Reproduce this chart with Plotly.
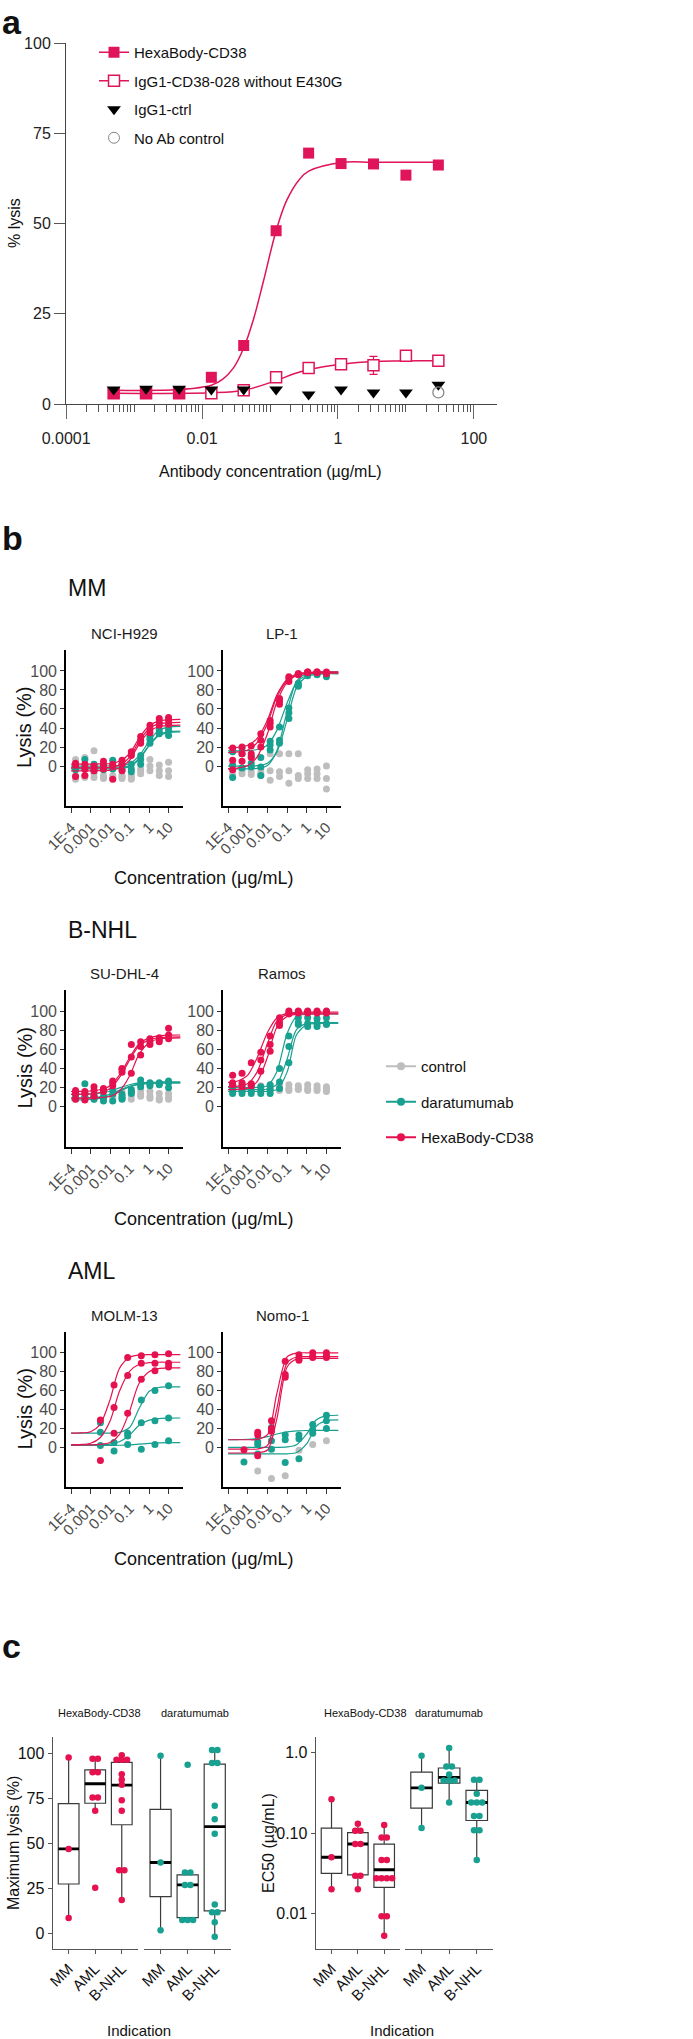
import plotly.graph_objects as go
from collections import Counter

W, H = 693, 2039
NARROW = "Liberation Sans, Arial, sans-serif"
REG = "Liberation Sans, Arial, sans-serif"
RED_A = "#E0145A"
RED = "#E5124F"
TEAL = "#18A090"
GREY = "#BEBEBE"

# ---------------- panel a ----------------
a_conc = [0.0005, 0.0015, 0.0046, 0.0137, 0.041, 0.123, 0.37, 1.11, 3.33, 10, 30]
a_hexa = [3, 3, 3, 7.4, 16.2, 48, 69.5, 66.6, 66.5, 63.4, 66.2]
a_igg = [3, 3, 3, 3, 3.8, 7.4, 10, 11, 10.7, 13.4, 12]
a_igg_err = [0, 0, 0, 0, 0, 0, 0, 0, 2.5, 0, 0]
a_ctrl = [4, 4.2, 4.2, 4, 4, 4, 2.6, 4, 3.2, 3.2, 5.3]
a_noab_conc = [30]
a_noab = [3.2]
a_hexa_fit_x = [0.0005, 0.0046, 0.0137, 0.02, 0.029, 0.041, 0.057, 0.08, 0.123, 0.176, 0.276, 0.37, 1.11, 3.33, 30]
a_hexa_fit_y = [3.8, 4.0, 5.2, 6.8, 10, 15.5, 23.4, 34, 48, 56.4, 62.4, 64.5, 66.9, 67, 67]
a_igg_fit_x = [0.0005, 0.0137, 0.041, 0.123, 0.22, 0.37, 1.11, 3.33, 30]
a_igg_fit_y = [3, 3.1, 3.8, 6.5, 8.3, 9.5, 11, 11.8, 12]

# ---------------- panel b ----------------
conc_3fold = [0.00017, 0.00051, 0.0015, 0.0046, 0.0137, 0.041, 0.123, 0.37, 1.11, 3.33, 10]
conc_molm = [0.0032, 0.016, 0.08, 0.4, 2, 10]
conc_nomo = [0.00064, 0.0032, 0.016, 0.08, 0.4, 2, 10]
fit_conc = [1e-4, 3e-4, 1e-3, 3e-3, 0.01, 0.03, 0.1, 0.3, 1, 3, 10, 40]

nci_hexa = [[3, -11, 1], [-3, -10, 2], [0, -3, -5], [5, -3, 1], [0, -14, 2], [6, -5, 2],
            [15, 11, 13], [31, 27, 24], [43, 39, 35], [50, 46, 43], [51, 48, 44]]
nci_dara = [[0, -4, 2], [7, -3, -1], [2, -2, -5], [-1, 1, -4], [6, -2, -3], [2, -1, -4],
            [-6, 2, -3], [11, 7, 2], [31, 24, 28], [38, 34, 35], [40, 32, 37]]
nci_ctrl = [[7, -14, -10], [9, -10, -12], [16, -12, -8], [-10, -12, -13], [-10, -12, -13], [-11, -13, -10],
            [-14, -10, -12], [-5, -3, -8], [7, 0, -5], [1, -5, -10], [4, -5, -11]]
nci_hexa_fit = [[2, 2, 2, 2.2, 2.7, 5, 12.9, 28.9, 42.3, 47.3, 48.6, 49],
                [-2, -2, -2, -1.8, -1.3, 1, 9.1, 25.6, 39.2, 44.3, 45.6, 46],
                [-5, -5, -5, -4.8, -4.3, -2, 6.1, 22.6, 36.2, 41.3, 42.6, 43]]
nci_dara_fit = [[0, 0, 0, 0, 0.1, 0.5, 2.6, 10.3, 26, 37.4, 41, 41.8],
                [-2, -2, -2, -2, -1.9, -1.5, 0.4, 7.6, 22.1, 32.7, 36.1, 36.8],
                [-3, -3, -3, -3, -2.9, -2.5, -0.6, 6.6, 21.1, 31.7, 35.1, 35.8]]

lp1_hexa = [[19, 6, -4], [20, 13, 5], [21, 13, 9], [34, 27, 20], [48, 45, 41], [71, 68, 65],
            [94, 89, 92], [97, 96, 97], [99, 99, 98], [99, 99, 98], [99, 98, 97]]
lp1_dara = [[15, -12, 1], [19, 13, -2], [10, 3, -1], [9, -1, -10], [26, 22, 17], [41, 27, 24],
            [61, 56, 50], [87, 85, 84], [97, 96, 95], [97, 97, 96], [97, 94, 96]]
lp1_ctrl = [[0, -4, -9], [-2, -5, -8], [-1, -6, -9], [-3, -7, -10], [13, -15, -5], [13, -11, -6],
            [13, -5, -18], [13, -10, -13], [-4, -8, -13], [-3, -8, -13], [0, -13, -24]]
lp1_hexa_fit = [[19.2, 19.7, 21.8, 29.1, 48.2, 74.7, 91.1, 96.8, 98.4, 98.8, 99, 99],
                [14.2, 14.8, 16.9, 24.6, 44.7, 72.5, 89.7, 95.7, 97.4, 97.8, 98, 98],
                [-2.8, -2.1, 0.5, 9.7, 33.9, 67.3, 88, 95.3, 97.3, 97.8, 98, 98]]
lp1_dara_fit = [[16, 16.1, 16.3, 17.4, 22.1, 37.5, 66.3, 87.8, 95.5, 97.4, 98, 98],
                [-3, -3, -2.9, -2.4, 0.6, 16, 57.3, 88.9, 97.3, 98.7, 99, 99],
                [0, 0, 0.1, 0.5, 3, 14.6, 48.5, 82.4, 94, 96.4, 97, 97]]

sud_hexa = [[17, 14, 8], [16, 7, 14], [21, 17, 11], [19, 18, 16], [27, 25, 22], [40, 39, 36],
            [65, 52, 35], [68, 63, 54], [71, 68, 65], [72, 68, 70], [82, 75, 71]]
sud_dara = [[13, 12, 9], [24, 11, 8], [8, 12, 10], [11, 6, 9], [17, 13, 6], [13, 8, 10],
            [18, 16, 14], [28, 24, 21], [25, 24, 22], [25, 24, 23], [27, 20, 25]]
sud_ctrl = [[10, 9, 8], [10, 9, 8], [9, 8, 10], [11, 9, 8], [12, 10, 9], [16, 11, 9],
            [16, 12, 8], [17, 13, 11], [16, 11, 9], [14, 9, 7], [14, 10, 8]]
sud_hexa_fit = [[16, 16.2, 16.5, 17.8, 22.1, 33.1, 51.2, 65.6, 72, 74.1, 74.8, 75],
                [13, 13.2, 13.5, 14.9, 19.2, 30.4, 48.8, 63.4, 69.9, 72.1, 72.8, 73],
                [9, 9, 9.1, 9.6, 10.8, 16.3, 32.2, 54.5, 67, 70.8, 71.7, 72]]
sud_dara_fit = [[13, 13.1, 13.4, 14.2, 16.2, 19.7, 23, 24.9, 25.6, 25.9, 26, 26],
                [9.1, 9.2, 9.5, 10.5, 13, 17.2, 21.3, 23.6, 24.5, 24.9, 25, 25],
                [7.1, 7.2, 7.6, 8.7, 11.5, 16.2, 20.8, 23.4, 24.5, 24.8, 25, 25]]

ramos_hexa = [[33, 23, 25], [35, 25, 21], [46, 22, 24], [57, 49, 37], [74, 65, 58], [93, 88, 85],
              [100, 98, 97], [100, 99, 98], [100, 99, 98], [100, 99, 98], [100, 99, 98]]
ramos_dara = [[23, 18, 14], [23, 17, 14], [22, 17, 14], [21, 17, 14], [23, 18, 14], [40, 26, 19],
              [74, 63, 46], [93, 86, 88], [93, 87, 84], [92, 87, 84], [93, 86, 87]]
ramos_ctrl = [[22, 19, 17], [22, 19, 17], [22, 19, 17], [22, 19, 17], [22, 19, 17], [22, 19, 17],
              [23, 19, 17], [22, 19, 18], [23, 19, 17], [22, 19, 17], [21, 18, 16]]
ramos_hexa_fit = [[25.5, 27, 33.1, 51.3, 77.6, 92.8, 97.5, 98.6, 99, 99, 99, 99],
                  [21.1, 21.6, 24.3, 36.5, 66, 89.4, 96.3, 97.7, 98, 98, 98, 98],
                  [18, 18.2, 19.4, 26.3, 51.7, 83.1, 94.4, 96.6, 97, 97, 97, 97]]
ramos_dara_fit = [[20, 20, 20, 20.2, 22.1, 36.6, 76.5, 94.3, 96.7, 97, 97, 97],
                  [18, 18, 18, 18, 18.6, 23.4, 49.8, 80.5, 87.2, 88, 88, 88],
                  [16, 16, 16, 16, 16.2, 18.2, 36.2, 75.2, 85.9, 87, 87, 87]]

molm_hexa = [[29, -14], [66, 42, 15], [95, 76, 36], [97, 89, 72], [98, 89, 81], [99, 89, 85]]
molm_dara = [[26, 16, 2], [5, -4], [15, 12, 3], [50, 26, -2], [60, 28, 3], [65, 31, 7]]
molm_ctrl = [[], [], [], [], [], []]
molm_hexa_fit = [[15, 15.2, 16.5, 23.7, 50.4, 83.4, 95.3, 97.6, 98, 98, 98, 98],
                 [2.6, 2.9, 4.3, 9.9, 27.9, 59, 80.4, 87.6, 89.5, 90, 90, 90],
                 [2.5, 2.5, 2.6, 3, 5, 13.4, 38.1, 67.3, 80, 83.2, 84, 84]]
molm_dara_fit = [[15, 15, 15, 15, 15.1, 15.8, 20.9, 40.5, 59, 63.3, 63.9, 64],
                 [2.5, 2.5, 2.5, 2.6, 3.3, 5.8, 13, 23.1, 28.7, 30.4, 30.9, 31],
                 [2, 2, 2, 2, 2.1, 2.2, 2.6, 3.3, 4.2, 4.7, 4.9, 5]]

nomo_hexa = [[-2.5], [16, 13, -9], [28, 20, 17], [91, 77, 74], [98, 92, 94], [100, 95, 96], [100, 95, 97]]
nomo_dara = [[-15.5], [6, -7, 3], [21, 7, -2], [13, 8, -16], [13, 9, -12], [24, 18, 15], [34, 28, 20]]
nomo_ctrl = [[], [-25], [-33], [-30], [-3], [3], [7]]
nomo_hexa_fit = [[8, 8, 8, 8.3, 13.4, 56.7, 95.6, 99.7, 100, 100, 100, 100],
                 [-2, -2, -2, -1.8, 2.1, 40.8, 89.3, 95.6, 96, 96, 96, 96],
                 [-6, -6, -6, -5.8, -2.9, 30, 84.9, 93.4, 94, 94, 94, 94]]
nomo_dara_fit = [[8, 8.2, 8.5, 9.4, 11.3, 14.1, 16.3, 17.4, 17.8, 17.9, 18, 18],
                 [0, 0, 0, 0, 0, 0, 0.4, 2.8, 14.2, 28.9, 33.2, 33.9],
                 [-7, -7, -7, -7, -7, -7, -6.9, -5.5, 3.8, 22.2, 28.2, 29]]

cell_lines = ["NCI-H929", "LP-1", "SU-DHL-4", "Ramos", "MOLM-13", "Nomo-1"]
indications_b = ["MM", "B-NHL", "AML"]

# ---------------- panel c ----------------
indications = ["MM", "AML", "B-NHL"]
maxlys_hexa = [[97.6, 46.9, 8.7],
               [96.9, 96.9, 89.4, 89.4, 75.4, 75.4, 68, 25.4],
               [98.8, 96.3, 96.3, 96.3, 88.3, 85.2, 82.4, 73.9, 68, 35.1, 35.1, 18.7]]
maxlys_dara = [[98.5, 39.4, 1.9],
               [93.5, 33.8, 33.8, 27, 27, 7.6, 7.6, 7.6],
               [101.7, 101.7, 94.5, 94.5, 70.8, 63.4, 55.3, 16.1, 11.8, 11.8, 6.3, -1.7]]
# box stats: q1, median, q3, lower whisker, upper whisker
maxlys_hexa_box = [[27.5, 47, 72, 8.7, 97.6], [72.2, 83, 90.7, 68, 96.9], [60.3, 82.3, 94.8, 18.7, 98.8]]
maxlys_dara_box = [[20.5, 39.4, 68.8, 1.9, 98.5], [8.9, 27, 32.5, 7.6, 33.8], [12.6, 59.3, 93.9, -1.7, 101.7]]

ec50_hexa = [[0.263, 0.050, 0.020],
             [0.13, 0.107, 0.107, 0.073, 0.073, 0.0294, 0.0294, 0.020],
             [0.126, 0.088, 0.088, 0.0464, 0.0464, 0.0275, 0.0275, 0.0275, 0.0275, 0.0093, 0.0093, 0.0053]]
ec50_dara = [[0.91, 0.364, 0.115],
             [1.13, 0.67, 0.67, 0.53, 0.449, 0.449, 0.449, 0.239],
             [0.457, 0.457, 0.306, 0.239, 0.239, 0.239, 0.163, 0.163, 0.108, 0.108, 0.0464]]
ec50_hexa_box = [[0.0316, 0.050, 0.115, 0.020, 0.263], [0.0303, 0.073, 0.101, 0.020, 0.13],
                 [0.0211, 0.035, 0.0728, 0.0053, 0.126]]
ec50_dara_box = [[0.204, 0.364, 0.57, 0.115, 0.91], [0.416, 0.49, 0.64, 0.239, 1.13],
                 [0.143, 0.239, 0.337, 0.0464, 0.457]]


def xd(a, b):
    return [a / W, b / W]


def yd(top, bot):
    return [1 - bot / H, 1 - top / H]


ann = []


def label(x, y, s, size, family=NARROW, angle=0, xanchor="center", color="#111"):
    ann.append(dict(x=x / W, y=1 - y / H, xref="paper", yref="paper", text=s, showarrow=False,
                    xanchor=xanchor, yanchor="middle", textangle=angle,
                    font=dict(family=family, size=size, color=color)))


def flat(conc, reps):
    xs, ys = [], []
    for c, vals in zip(conc, reps):
        for v in vals:
            xs.append(c)
            ys.append(v)
    return xs, ys


def spread(vals, pos, step=0.2):
    cnt, seen, xs = Counter(vals), Counter(), []
    for v in vals:
        xs.append(pos + (seen[v] - (cnt[v] - 1) / 2) * step)
        seen[v] += 1
    return xs


fig = go.Figure()

# ---- panel a traces ----
fig.add_trace(go.Scatter(x=a_hexa_fit_x, y=a_hexa_fit_y, mode="lines", line=dict(color=RED_A, width=1.5, shape="spline"),
                         showlegend=False, xaxis="x", yaxis="y"))
fig.add_trace(go.Scatter(x=a_igg_fit_x, y=a_igg_fit_y, mode="lines", line=dict(color=RED_A, width=1.5, shape="spline"),
                         showlegend=False, xaxis="x", yaxis="y"))
fig.add_trace(go.Scatter(x=a_conc, y=a_igg, mode="markers",
                         error_y=dict(type="data", array=a_igg_err, color=RED_A, thickness=1.2, width=4),
                         marker=dict(symbol="square", size=11, color="white", line=dict(color=RED_A, width=1.5)),
                         showlegend=False, cliponaxis=False, xaxis="x", yaxis="y"))
fig.add_trace(go.Scatter(x=a_conc, y=a_hexa, mode="markers", marker=dict(symbol="square", size=11, color=RED_A),
                         showlegend=False, cliponaxis=False, xaxis="x", yaxis="y"))
fig.add_trace(go.Scatter(x=a_conc, y=a_ctrl, mode="markers", marker=dict(symbol="triangle-down", size=12, color="black"),
                         showlegend=False, cliponaxis=False, xaxis="x", yaxis="y"))
fig.add_trace(go.Scatter(x=a_noab_conc, y=a_noab, mode="markers",
                         marker=dict(symbol="circle-open", size=11, color="#888", line=dict(width=1.3)),
                         showlegend=False, cliponaxis=False, xaxis="x", yaxis="y"))
# legend entries for panel a
leg_a = [("HexaBody-CD38", "lines+markers", dict(symbol="square", size=11, color=RED_A)),
         ("IgG1-CD38-028 without E430G", "lines+markers",
          dict(symbol="square", size=11, color="white", line=dict(color=RED_A, width=1.5))),
         ("IgG1-ctrl", "markers", dict(symbol="triangle-down", size=12, color="black")),
         ("No Ab control", "markers", dict(symbol="circle-open", size=11, color="#888"))]
for i, (nm, md, mk) in enumerate(leg_a):
    fig.add_trace(go.Scatter(x=[None], y=[None], name=nm, mode=md, marker=mk, line=dict(color=RED_A, width=1.5),
                             legend="legend", legendgroup=f"a{i}", xaxis="x", yaxis="y"))

# ---- panel b traces ----
cells = [(conc_3fold, nci_ctrl, nci_dara, nci_hexa, nci_dara_fit, nci_hexa_fit),
         (conc_3fold, lp1_ctrl, lp1_dara, lp1_hexa, lp1_dara_fit, lp1_hexa_fit),
         (conc_3fold, sud_ctrl, sud_dara, sud_hexa, sud_dara_fit, sud_hexa_fit),
         (conc_3fold, ramos_ctrl, ramos_dara, ramos_hexa, ramos_dara_fit, ramos_hexa_fit),
         (conc_molm, molm_ctrl, molm_dara, molm_hexa, molm_dara_fit, molm_hexa_fit),
         (conc_nomo, nomo_ctrl, nomo_dara, nomo_hexa, nomo_dara_fit, nomo_hexa_fit)]
for i, (conc, ctrl, dara, hexa, dfit, hfit) in enumerate(cells):
    xa, ya = f"x{i + 2}", f"y{i + 2}"
    cx, cy = flat(conc, ctrl)
    if cx:
        fig.add_trace(go.Scatter(x=cx, y=cy, mode="markers", marker=dict(size=7, color=GREY),
                                 showlegend=False, cliponaxis=False, xaxis=xa, yaxis=ya))
    for fits, pts, col in ((dfit, dara, TEAL), (hfit, hexa, RED)):
        for f in fits:
            fig.add_trace(go.Scatter(x=fit_conc, y=f, mode="lines",
                                     line=dict(color=col, width=1.2, shape="spline", smoothing=0.8),
                                     showlegend=False, xaxis=xa, yaxis=ya))
        px_, py_ = flat(conc, pts)
        fig.add_trace(go.Scatter(x=px_, y=py_, mode="markers", marker=dict(size=7, color=col),
                                 showlegend=False, cliponaxis=False, xaxis=xa, yaxis=ya))
for nm, col in (("control", GREY), ("daratumumab", TEAL), ("HexaBody-CD38", RED)):
    fig.add_trace(go.Scatter(x=[None], y=[None], name=nm, mode="lines+markers",
                             marker=dict(size=8, color=col), line=dict(color=col, width=2),
                             legend="legend2", legendgroup="b" + nm, xaxis="x2", yaxis="y2"))

# ---- panel c traces ----
panels_c = [(8, maxlys_hexa, maxlys_hexa_box, RED), (9, maxlys_dara, maxlys_dara_box, TEAL),
            (10, ec50_hexa, ec50_hexa_box, RED), (11, ec50_dara, ec50_dara_box, TEAL)]
BW = 0.78
for ax, groups, boxes, col in panels_c:
    xa, ya = f"x{ax}", f"y{ax}"
    for k, (q1, med, q3, lo, hi) in enumerate(boxes):
        fig.add_trace(go.Box(x=[k], q1=[q1], median=[med], q3=[q3], lowerfence=[lo], upperfence=[hi],
                             width=BW, whiskerwidth=0, fillcolor="white", boxpoints=False,
                             line=dict(color="#3a3a3a", width=1.2), showlegend=False, xaxis=xa, yaxis=ya))
    mx, my = [], []
    for k, b in enumerate(boxes):
        mx += [k - BW / 2, k + BW / 2, None]
        my += [b[1], b[1], None]
    fig.add_trace(go.Scatter(x=mx, y=my, mode="lines", line=dict(color="black", width=2.8),
                             showlegend=False, xaxis=xa, yaxis=ya))
    dx, dy = [], []
    for k, vals in enumerate(groups):
        dx += spread(vals, k)
        dy += vals
    fig.add_trace(go.Scatter(x=dx, y=dy, mode="markers", marker=dict(size=6.5, color=col),
                             showlegend=False, cliponaxis=False, xaxis=xa, yaxis=ya))

# ---------------- layout ----------------
lay = dict(width=W, height=H, margin=dict(l=0, r=0, t=0, b=0, autoexpand=False), autosize=False,
           paper_bgcolor="white", plot_bgcolor="white", font=dict(family=NARROW, color="#111"))

minor_a = [m * 10.0 ** e for e in range(-4, 3) for m in range(1, 10)
           if not (m == 1 and e % 2 == 0) and m * 10.0 ** e < 200]
lay["xaxis"] = dict(type="log", domain=xd(66, 497), range=[-4.002, 2.34], anchor="y",
                    showline=True, linecolor="#444", linewidth=1, showgrid=False, zeroline=False,
                    ticks="outside", ticklen=14, tickcolor="#666", tickwidth=1.3,
                    tickmode="array", tickvals=[1e-4, 1e-2, 1, 100], ticktext=["0.0001", "0.01", "1", "100"],
                    tickfont=dict(family=NARROW, size=16, color="#222"), ticklabelstandoff=6,
                    minor=dict(ticks="outside", ticklen=7, tickcolor="#555", tickwidth=1,
                               tickmode="array", tickvals=minor_a, showgrid=False))
lay["yaxis"] = dict(domain=yd(43, 404), range=[0, 100], anchor="x", showline=True, linecolor="#444",
                    linewidth=1, showgrid=False, zeroline=False, ticks="outside", ticklen=11,
                    tickcolor="#555", tickvals=[0, 25, 50, 75, 100],
                    tickfont=dict(family=NARROW, size=16, color="#222"))

rows = [(650, 806), (990, 1147), (1332, 1487)]
cols = [(66, 183), (223, 341)]
for i in range(6):
    top, bot = rows[i // 2]
    x0, x1 = cols[i % 2]
    n = i + 2
    lay[f"xaxis{n}"] = dict(type="log", domain=xd(x0, x1), range=[-4.26, 1.74], anchor=f"y{n}",
                            showline=True, linecolor="black", linewidth=1.6, showgrid=False, zeroline=False,
                            ticks="outside", ticklen=5, tickcolor="#333", tickmode="array",
                            tickvals=[1e-4, 1e-3, 1e-2, 0.1, 1, 10],
                            ticktext=["1E-4", "0.001", "0.01", "0.1", "1", "10"], tickangle=-45,
                            tickfont=dict(family=NARROW, size=15, color="#4D4D4D"))
    lay[f"yaxis{n}"] = dict(domain=yd(top, bot), range=[-42, 122], anchor=f"x{n}", showline=True,
                            linecolor="black", linewidth=1.6, showgrid=False, zeroline=False,
                            ticks="outside", ticklen=4, tickcolor="#333", tickvals=[0, 20, 40, 60, 80, 100],
                            tickfont=dict(family=NARROW, size=16, color="#4D4D4D"))

c_x = {8: (52.7, 137.7), 9: (144.3, 231), 10: (315.7, 400), 11: (405, 493.3)}
for n, (x0, x1) in c_x.items():
    lay[f"xaxis{n}"] = dict(domain=xd(x0, x1), range=[-0.6, 2.6], anchor=f"y{n}", showline=True,
                            linecolor="#555", linewidth=1.2, showgrid=False, zeroline=False,
                            ticks="outside", ticklen=4, tickcolor="#555", tickvals=[0, 1, 2],
                            ticktext=indications, tickangle=-45,
                            tickfont=dict(family=NARROW, size=15, color="#111"))
for n in (8, 9):
    lay[f"yaxis{n}"] = dict(domain=yd(1737, 1949), range=[-8.5, 108.9], anchor=f"x{n}", showline=True,
                            linecolor="#555", linewidth=1.2, showgrid=False, zeroline=False,
                            ticks="outside", ticklen=4, tickcolor="#555", tickvals=[0, 25, 50, 75, 100],
                            tickfont=dict(family=NARROW, size=16, color="#111"), visible=(n == 8))
for n in (10, 11):
    lay[f"yaxis{n}"] = dict(type="log", domain=yd(1737, 1949), range=[-2.439, 0.191], anchor=f"x{n}",
                            showline=True, linecolor="#555", linewidth=1.2, showgrid=False, zeroline=False,
                            ticks="outside", ticklen=4, tickcolor="#555", tickmode="array",
                            tickvals=[0.01, 0.1, 1], ticktext=["0.01", "0.10", "1.0"],
                            tickfont=dict(family=NARROW, size=16, color="#111"), visible=(n == 10))

lay["legend"] = dict(x=94 / W, y=1 - 36 / H, xanchor="left", yanchor="top", bgcolor="rgba(0,0,0,0)",
                     font=dict(family=NARROW, size=15, color="#111"), traceorder="grouped",
                     tracegroupgap=6, itemwidth=30)
lay["legend2"] = dict(x=381 / W, y=1 - 1050 / H, xanchor="left", yanchor="top", bgcolor="rgba(0,0,0,0)",
                      font=dict(family=NARROW, size=15, color="#111"), traceorder="grouped",
                      tracegroupgap=13, itemwidth=30)

# ---- text ----
label(0, 22, "<b>a</b>", 34, xanchor="left")
label(0, 538, "<b>b</b>", 34, xanchor="left")
label(0, 1646, "<b>c</b>", 34, xanchor="left")
label(15, 223, "% lysis", 16, family=REG, angle=-90)
label(270, 472, "Antibody concentration (µg/mL)", 16)

row_titles_y = [588, 930, 1271]
for r, (top, bot) in enumerate(rows):
    label(66, row_titles_y[r], indications_b[r], 23, xanchor="left")
    label(24, (top + bot) / 2, "Lysis (%)", 20, family=REG, angle=-90)
    label(203, bot + 72, "Concentration (μg/mL)", 18)
    for c, (x0, x1) in enumerate(cols):
        label((x0 + x1) / 2, top - 17, cell_lines[2 * r + c], 15, color="#1a1a1a")

label(99, 1713, "HexaBody-CD38", 11)
label(195, 1713, "daratumumab", 11)
label(365, 1713, "HexaBody-CD38", 11)
label(449, 1713, "daratumumab", 11)
label(13, 1843, "Maximum lysis (%)", 16, family=REG, angle=-90)
label(268, 1843, "EC50 (µg/mL)", 16, family=REG, angle=-90)
label(139, 2030, "Indication", 15)
label(402, 2030, "Indication", 15)

lay["annotations"] = ann
fig.update_layout(**lay)
fig.write_html("out.html", config={"displayModeBar": False},
               post_script="document.body.style.margin='0px';")
